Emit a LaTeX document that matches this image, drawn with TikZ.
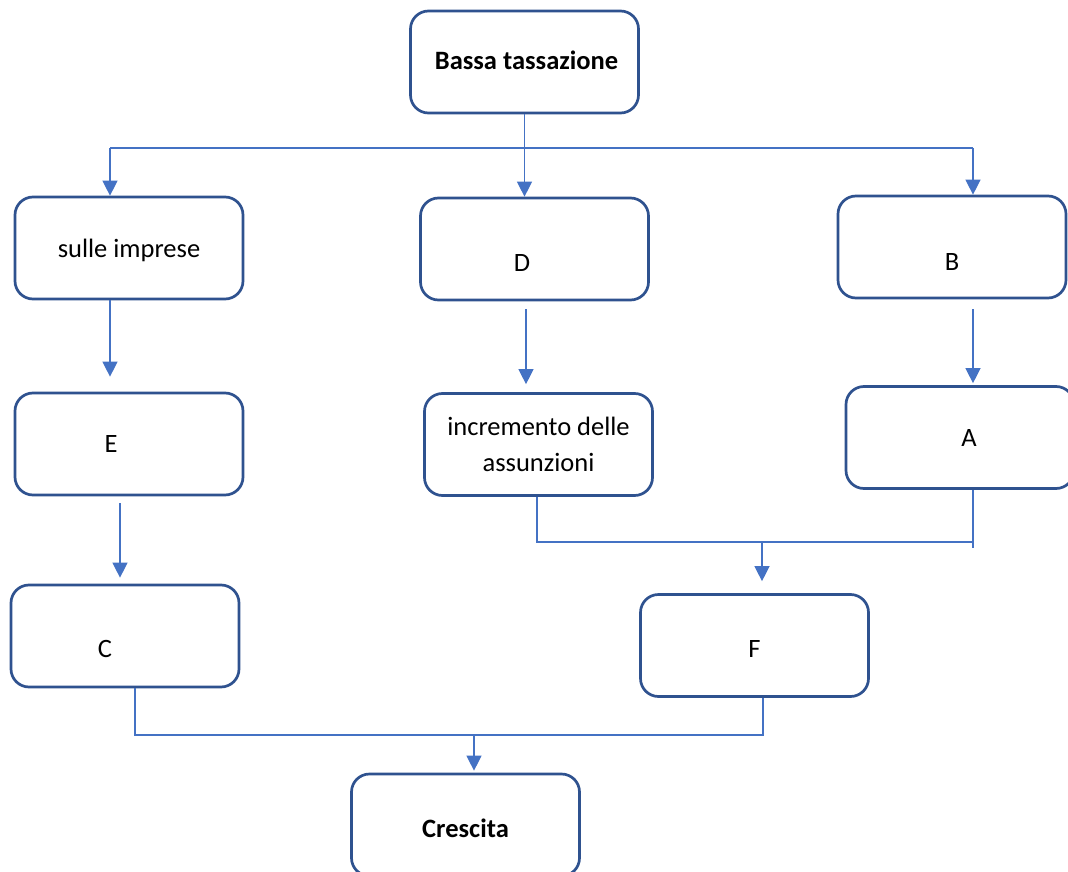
\documentclass[tikz,border=0pt]{standalone}
\usepackage{fontspec}
\setmainfont{Carlito}
\usetikzlibrary{arrows.meta}

\definecolor{boxblue}{HTML}{2F528F}
\definecolor{linkblue}{HTML}{4472C4}

\tikzset{
    boxtxt/.style={font=\fontsize{26.5}{36}\selectfont, inner sep=0pt},
    box/.style={boxtxt, draw=boxblue, line width=2.7pt, rounded corners=18pt, fill=white,
        minimum width=228pt, minimum height=102pt, align=center},
    link/.style={draw=linkblue, line width=1.3pt},
    arr/.style={link, -{Triangle[width=15pt,length=15pt]}},
}

\begin{document}
\begin{tikzpicture}[x=1pt, y=-1pt]
    \useasboundingbox (0,0) rectangle (1068,872);

    % boxes
    \node[box, label={[boxtxt, xshift=2pt, yshift=2pt]center:\textbf{Bassa tassazione}}] (bassa) at (524.5, 62) {};
    \node[box, label={[boxtxt, yshift=-2pt]center:sulle imprese}] (imprese) at (129, 248) {};
    \node[box, label={[boxtxt, xshift=-12.5pt, yshift=-14pt]center:D}] (d) at (534.5, 249) {};
    \node[box, label={[boxtxt, yshift=-15pt]center:B}] (b) at (952, 247) {};
    \node[box, label={[boxtxt, xshift=-18pt]center:E}] (e) at (129, 444) {};
    \node[box] (incr) at (538.5, 444.5) {incremento delle\\assunzioni};
    \node[box, label={[boxtxt, xshift=9pt]center:A}] (a) at (960, 437.5) {};
    \node[box, label={[boxtxt, xshift=-20pt, yshift=-13pt]center:C}] (c) at (125, 636) {};
    \node[box, label={[boxtxt, yshift=-3pt]center:F}] (f) at (754.5, 645.5) {};
    \node[box, label={[boxtxt, yshift=-3pt]center:\textbf{Crescita}}] (cres) at (465.5, 825) {};

    % split points
    \coordinate (topL) at (110, 148);
    \coordinate (topR) at (973, 148);
    \coordinate (midL) at (537, 542);
    \coordinate (midR) at (973, 542);
    \coordinate (midF) at (762, 542);
    \coordinate (botL) at (135, 735);
    \coordinate (botR) at (763, 735);
    \coordinate (botM) at (474, 735);

    % top fork
    \draw[arr] (bassa.south) -- (bassa.south |- d.north);
    \draw[link] (topL) -- (topR);
    \draw[arr] (topL) -- (topL |- imprese.north);
    \draw[arr] (topR) -- (topR |- b.north);

    % columns
    \draw[arr, shorten >=15pt] ([xshift=-19pt]imprese.south) -- ([xshift=-19pt]e.north);
    \draw[arr, shorten <=8pt, shorten >=8pt] ([xshift=-8.5pt]d.south) -- ([xshift=-8.5pt]d.south |- incr.north);
    \draw[arr, shorten <=10pt, shorten >=2pt] ([xshift=21pt]b.south) -- ([xshift=21pt]b.south |- a.north);
    \draw[arr, shorten <=7pt, shorten >=6pt] ([xshift=-9pt]e.south) -- ([xshift=-9pt]e.south |- c.north);

    % join into F
    \draw[link] (incr.south -| midL) -- (midL) -- (midR);
    \draw[link] (a.south -| midR) -- ([yshift=-6pt]midR);
    \draw[arr, shorten >=12pt] (midF) -- (midF |- f.north);

    % join into Crescita
    \draw[link] (c.south -| botL) -- (botL) -- (botR) -- (f.south -| botR);
    \draw[arr, shorten >=2pt] (botM) -- (botM |- cres.north);
\end{tikzpicture}
\end{document}
